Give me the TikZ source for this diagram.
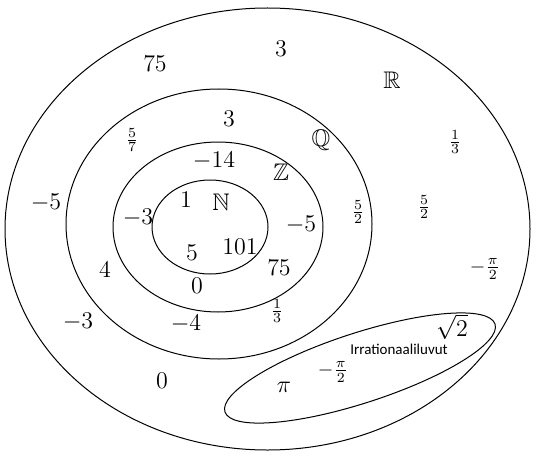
\documentclass[tikz,border=0pt]{standalone}
\usepackage{fontspec}
\usepackage{amssymb}
\usetikzlibrary{shapes.geometric}
\newfontfamily\irrfont{Carlito}
\begin{document}
\begin{tikzpicture}[x=0.5pt,y=-0.5pt,
    joukko/.style={draw,ellipse,inner sep=0pt,line width=0.5pt},
    luku/.style={font=\large,inner sep=1pt},
    murto/.style={font=\normalsize,inner sep=0.5pt}]
    \useasboundingbox (0,0) rectangle (540,460);
    \node[joukko,minimum width=262.5pt,minimum height=221pt] (R) at (267.5,229) {};
    \node[joukko,minimum width=153pt,minimum height=135pt] (Q) at (219,224) {};
    \node[joukko,minimum width=105pt,minimum height=85pt] (Z) at (218,227) {};
    \node[joukko,minimum width=58pt,minimum height=47pt] (N) at (210,227) {};
    \node[joukko,minimum width=142pt,minimum height=35pt,rotate=18] (irr) at (360,368) {};
    \node[luku] (rR) at (392,80) {$\mathbb{R}$};
    \node[luku] (rQ) at (321,140) {$\mathbb{Q}$};
    \node[luku] (rZ) at (281,172) {$\mathbb{Z}$};
    \node[luku] (rN) at (221,202) {$\mathbb{N}$};
    \node[luku] (a1) at (155,64) {$75$};
    \node[luku] (a2) at (281,49) {$3$};
    \node[murto] (a3) at (132,140) {$\frac{5}{7}$};
    \node[luku] (a4) at (229,119) {$3$};
    \node[murto] (a5) at (455,142) {$\frac{1}{3}$};
    \node[luku] (a6) at (214,161) {$-14$};
    \node[luku] (a7) at (46,203) {$-5$};
    \node[luku] (a8) at (186,200) {$1$};
    \node[luku] (a9) at (138,218) {$-3$};
    \node[murto] (a10) at (358,212) {$\frac{5}{2}$};
    \node[murto] (a11) at (424,207) {$\frac{5}{2}$};
    \node[luku] (a12) at (301,225) {$-5$};
    \node[luku] (a13) at (192,253) {$5$};
    \node[luku] (a14) at (240,247) {$101$};
    \node[luku] (a15) at (105,270) {$4$};
    \node[luku] (a16) at (279,268) {$75$};
    \node[murto] (a17) at (485,269) {$-\frac{\pi}{2}$};
    \node[luku] (a18) at (197,286) {$0$};
    \node[murto] (a19) at (277,311) {$\frac{1}{3}$};
    \node[luku] (a20) at (78,322) {$-3$};
    \node[luku] (a21) at (186,324) {$-4$};
    \node[luku] (a22) at (162,381) {$0$};
    \node[luku] (b1) at (452,327) {$\sqrt{2}$};
    \node[font=\irrfont\fontsize{7.5}{9}\selectfont,inner sep=0pt] (irrnimi) at (399,349) {Irrationaaliluvut};
    \node[murto] (b2) at (333,372) {$-\frac{\pi}{2}$};
    \node[luku] (b3) at (284,387) {$\pi$};
\end{tikzpicture}
\end{document}
